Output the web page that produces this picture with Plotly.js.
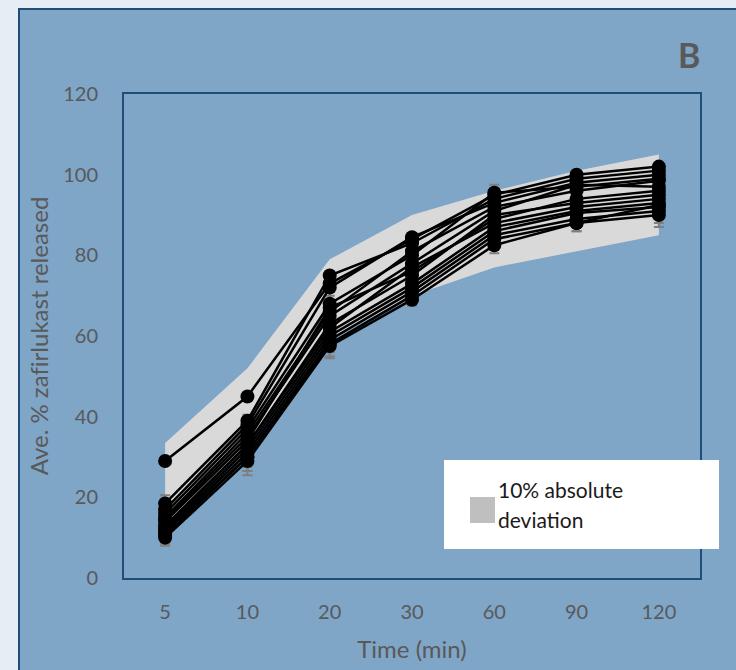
<!DOCTYPE html>
<html>
<head>
<meta charset="utf-8">
<script src="https://cdn.plot.ly/plotly-3.0.1.min.js"></script>
<style>
  html, body { margin: 0; padding: 0; background: #e6edf5; }
  #chart { width: 736px; height: 670px; }
</style>
</head>
<body>
<div id="chart"></div>
<script>
// ---- data ----
var timeLabels = ['5', '10', '20', '30', '60', '90', '120'];
var bandUpper = [33.5, 52, 79, 90, 96, 101, 105];
var bandLower = [13.5, 32, 59, 70, 77, 81, 85];
var errorByTime = [2, 3.5, 3, 1.5, 2, 2, 3];
var errorOutlier = [0.5, 0.5, 0.5, 0.5, 0.5, 0.5, 0.5];
var errorUpper = [2, 0.5, 0.5, 0.5, 0.5, 0.5, 0.5];

var s1  = [29,   45, 73,   84,   95,   100,  102];
var s2  = [18.5, 39, 75,   83,   94,   99,   101];
var s3  = [17,   38, 72,   84.5, 93,   98,   100];
var s4  = [16,   37, 68,   80,   95.5, 97,   99];
var s5  = [15,   36, 66,   81,   92,   96,   98.5];
var s6  = [14.5, 35, 65,   78,   91,   97.5, 97];
var s7  = [14,   34, 67,   76,   89,   94,   96];
var s8  = [13,   33, 63,   75,   90,   93,   95];
var s9  = [12.5, 33, 62,   77,   88,   92,   94];
var s10 = [12,   32, 61,   73,   87,   91,   93];
var s11 = [11.5, 31, 60,   72,   86,   90.5, 92];
var s12 = [11,   30, 59,   71,   85,   89,   91];
var s13 = [10.5, 30, 58,   70,   84,   88,   90];
var s14 = [10,   29, 57.5, 69,   82.5, 88,   92.5];
var seriesList = [s1, s2, s3, s4, s5, s6, s7, s8, s9, s10, s11, s12, s13, s14];
var errorList = [errorOutlier, errorUpper, errorUpper, errorByTime, errorByTime, errorByTime, errorByTime,
                 errorByTime, errorByTime, errorByTime, errorByTime, errorByTime, errorByTime, errorByTime];

// ---- traces ----
var traces = [];
traces.push({
  x: timeLabels, y: bandLower, type: 'scatter', mode: 'lines',
  line: {width: 0, color: '#d9d9d9'}, hoverinfo: 'skip', showlegend: false
});
traces.push({
  x: timeLabels, y: bandUpper, type: 'scatter', mode: 'lines',
  fill: 'tonexty', fillcolor: '#d9d9d9',
  line: {width: 0, color: '#d9d9d9'}, name: '10% absolute deviation', showlegend: false
});
// error bars first, so that every marker sits on top of them
seriesList.forEach(function (s, i) {
  traces.push({
    x: timeLabels, y: s, type: 'scatter', mode: 'markers',
    marker: {color: 'rgba(0,0,0,0)', size: 1},
    error_y: {type: 'data', array: errorList[i], visible: true, color: '#7f7f7f', thickness: 2, width: 5},
    hoverinfo: 'skip', showlegend: false
  });
});
seriesList.forEach(function (s, i) {
  traces.push({
    x: timeLabels, y: s, type: 'scatter', mode: 'lines+markers',
    line: {color: '#000000', width: 2.5},
    marker: {color: '#000000', size: 14, symbol: 'circle'},
    name: 'Batch ' + (i + 1), showlegend: false
  });
});

var font = "Lato, 'Open Sans', sans-serif";
var layout = {
  width: 736, height: 670,
  margin: {l: 124, r: 36, t: 94, b: 92},
  paper_bgcolor: '#e6edf5',
  plot_bgcolor: 'rgba(0,0,0,0)',
  showlegend: false,
  font: {family: font, color: '#595959'},
  xaxis: {
    type: 'category', range: [-0.5, 6.5],
    showline: true, mirror: true, linecolor: '#1f4e79', linewidth: 2,
    showgrid: false, zeroline: false, ticks: '',
    tickfont: {family: font, size: 20, color: '#595959'},
    ticklabelstandoff: 15,
    title: {text: 'Time (min)', font: {family: font, size: 24, color: '#595959'}, standoff: 19}
  },
  yaxis: {
    range: [0, 120], dtick: 20,
    showline: true, mirror: true, linecolor: '#1f4e79', linewidth: 2,
    showgrid: false, zeroline: false, ticks: '',
    tickfont: {family: font, size: 20, color: '#595959'},
    ticklabelstandoff: 20,
    title: {text: 'Ave. % zaf\u200Cirlukast released', font: {family: font, size: 24, color: '#595959'}, standoff: 8}
  },
  shapes: [
    {type: 'rect', xref: 'paper', yref: 'paper', x0: -0.1823, x1: 1.08, y0: -0.22, y1: 1.1756,
     fillcolor: '#7fa5c7', line: {color: '#1f4e79', width: 2}, layer: 'below'},
    {type: 'rect', xref: 'paper', yref: 'paper', x0: 0.5556, x1: 1.033, y0: 0.0599, y1: 0.2438,
     fillcolor: '#ffffff', line: {width: 0}, layer: 'above'},
    {type: 'rect', xref: 'paper', yref: 'paper', x0: 0.6007, x1: 0.6441, y0: 0.1136, y1: 0.1674,
     fillcolor: '#bfbfbf', line: {width: 0}, layer: 'above'}
  ],
  annotations: [
    {text: '<b>B</b>', xref: 'paper', yref: 'paper', x: 0.981, y: 1.0806,
     xanchor: 'center', yanchor: 'middle', showarrow: false,
     font: {family: font, size: 34, color: '#595959'}},
    {text: '10% absolute', xref: 'paper', yref: 'paper', x: 0.6458, y: (578 - 489) / 484,
     xanchor: 'left', yanchor: 'middle', showarrow: false,
     font: {family: font, size: 21, color: '#1a1a1a'}},
    {text: 'deviation', xref: 'paper', yref: 'paper', x: 0.6458, y: (578 - 519) / 484,
     xanchor: 'left', yanchor: 'middle', showarrow: false,
     font: {family: font, size: 21, color: '#1a1a1a'}}
  ]
};

Plotly.newPlot('chart', traces, layout, {displayModeBar: false, staticPlot: true});
</script>
</body>
</html>
